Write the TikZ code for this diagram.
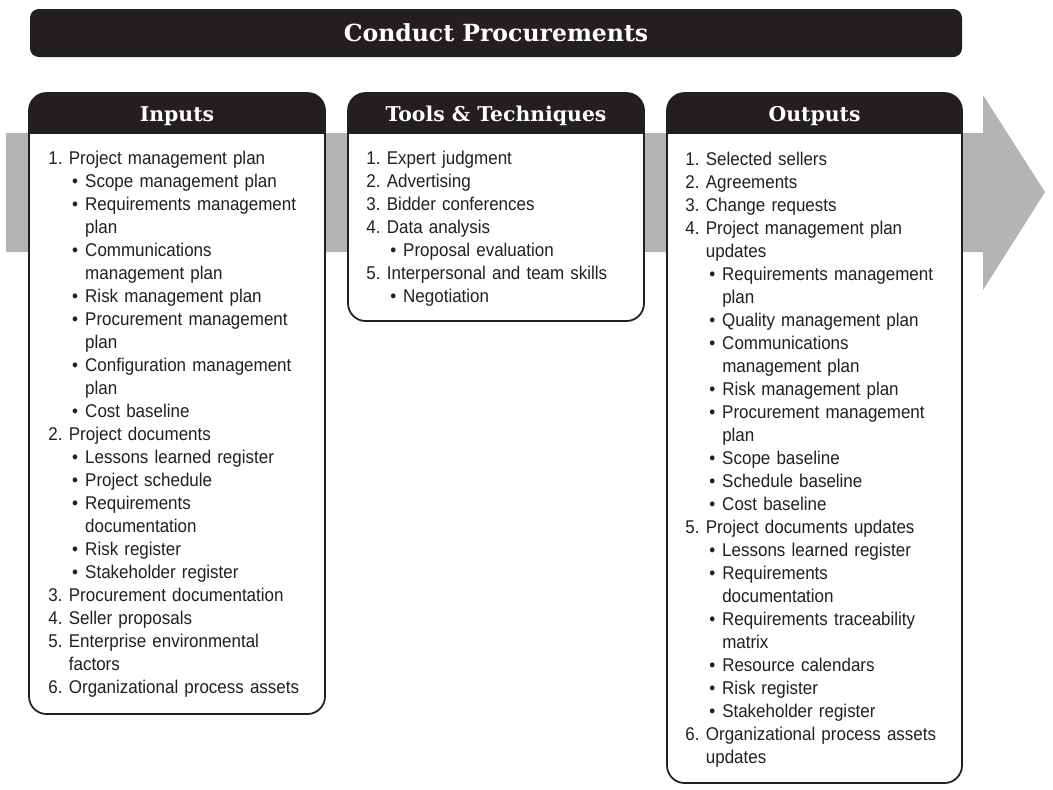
\documentclass[tikz,border=0pt]{standalone}
\usepackage{fontspec}
\setmainfont{Liberation Sans}[FakeStretch=0.92]
\newfontfamily\slabfont{DejaVu Serif}
\definecolor{ink}{HTML}{231F20}
\definecolor{band}{HTML}{B3B4B6}
% list lines: numbered item, bullet item and their continuation lines
\newcommand{\nitem}[2]{\makebox[11.7pt][l]{#1}#2}
\newcommand{\ncont}[1]{\hspace*{11.7pt}#1}
\newcommand{\bitem}[1]{\hspace*{13.6pt}\makebox[7.4pt][l]{\textbullet}#1}
\newcommand{\bcont}[1]{\hspace*{21pt}#1}
\begin{document}
\begin{tikzpicture}[x=0.02cm, y=-0.02cm]
    \tikzset{
        panel/.style={draw=ink, line width=1pt, rounded corners=10pt},
        headtext/.style={anchor=base, inner sep=0pt, text=white, font=\slabfont\bfseries\fontsize{11.6}{13}\selectfont},
        bodytext/.style={anchor=base west, inner sep=0pt, text width=5.4cm, align=left, text=ink, font=\fontsize{10.5}{13.1}\selectfont}
    }
    \useasboundingbox (0,0) rectangle (1053,789);
    % process arrow behind the panels
    \fill[band] (6,133) -- (983,133) -- (983,95) -- (1045,192) -- (983,290) -- (983,252) -- (6,252) -- cycle;
    % title bar
    \fill[ink, rounded corners=5pt] (30,9) rectangle (962,57);
    \node[headtext, font=\slabfont\bfseries\fontsize{13.4}{15}\selectfont] (title) at (496,41) {Conduct Procurements};
    % panels with dark headers
    \foreach \name/\xa/\xb/\yb/\head in {in/29/325/714/Inputs, tt/348/644/321/Tools \& Techniques, out/667/962/783/Outputs}{
        \filldraw[panel, fill=white] (\xa,93) rectangle (\xb,\yb);
        \begin{scope}
            \clip (\xa,93) rectangle (\xb,133);
            \fill[ink, rounded corners=10pt] (\xa,93) rectangle (\xb,\yb);
        \end{scope}
        \node[headtext] (\name head) at ({(\xa+\xb)/2},121) {\head};
    }
    \node[bodytext] (inlist) at (48,164) {%
        \nitem{1.}{Project management plan}\\
        \bitem{Scope management plan}\\
        \bitem{Requirements management}\\
        \bcont{plan}\\
        \bitem{Communications}\\
        \bcont{management plan}\\
        \bitem{Risk management plan}\\
        \bitem{Procurement management}\\
        \bcont{plan}\\
        \bitem{Configuration management}\\
        \bcont{plan}\\
        \bitem{Cost baseline}\\
        \nitem{2.}{Project documents}\\
        \bitem{Lessons learned register}\\
        \bitem{Project schedule}\\
        \bitem{Requirements}\\
        \bcont{documentation}\\
        \bitem{Risk register}\\
        \bitem{Stakeholder register}\\
        \nitem{3.}{Procurement documentation}\\
        \nitem{4.}{Seller proposals}\\
        \nitem{5.}{Enterprise environmental}\\
        \ncont{factors}\\
        \nitem{6.}{Organizational process assets}};
    \node[bodytext] (ttlist) at (366,164) {%
        \nitem{1.}{Expert judgment}\\
        \nitem{2.}{Advertising}\\
        \nitem{3.}{Bidder conferences}\\
        \nitem{4.}{Data analysis}\\
        \bitem{Proposal evaluation}\\
        \nitem{5.}{Interpersonal and team skills}\\
        \bitem{Negotiation}};
    \node[bodytext] (outlist) at (685,165) {%
        \nitem{1.}{Selected sellers}\\
        \nitem{2.}{Agreements}\\
        \nitem{3.}{Change requests}\\
        \nitem{4.}{Project management plan}\\
        \ncont{updates}\\
        \bitem{Requirements management}\\
        \bcont{plan}\\
        \bitem{Quality management plan}\\
        \bitem{Communications}\\
        \bcont{management plan}\\
        \bitem{Risk management plan}\\
        \bitem{Procurement management}\\
        \bcont{plan}\\
        \bitem{Scope baseline}\\
        \bitem{Schedule baseline}\\
        \bitem{Cost baseline}\\
        \nitem{5.}{Project documents updates}\\
        \bitem{Lessons learned register}\\
        \bitem{Requirements}\\
        \bcont{documentation}\\
        \bitem{Requirements traceability}\\
        \bcont{matrix}\\
        \bitem{Resource calendars}\\
        \bitem{Risk register}\\
        \bitem{Stakeholder register}\\
        \nitem{6.}{Organizational process assets}\\
        \ncont{updates}};
\end{tikzpicture}
\end{document}
